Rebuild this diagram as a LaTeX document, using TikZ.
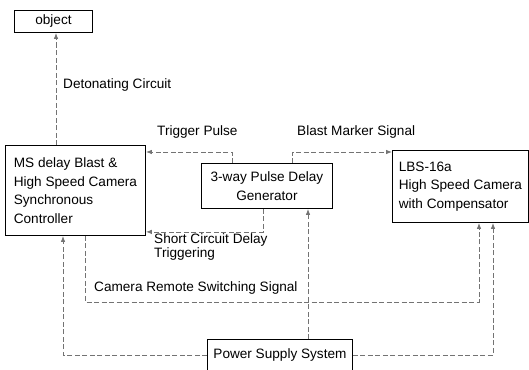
\documentclass[tikz,border=0pt]{standalone}
\usepackage{fontspec}
\setmainfont{Liberation Sans}
\usetikzlibrary{arrows.meta}
\begin{document}
\begin{tikzpicture}[x=1pt,y=-1pt,
  box/.style={draw=black, line width=0.9pt, anchor=north west, inner sep=0pt,
    font=\fontsize{13.6}{18.5}\selectfont},
  lbl/.style={anchor=west, inner sep=0pt, font=\fontsize{13.6}{13.5}\selectfont, align=left},
  conn/.style={draw=black!55, line width=0.8pt, dash pattern=on 5pt off 2.5pt,
    -{Latex[length=6pt,width=4.5pt]}}
]
\useasboundingbox (0,0) rectangle (529,369);

% boxes
\node[box, minimum width=78pt, minimum height=22pt] (obj) at (14,10) {object};
\node[box, minimum width=140pt, minimum height=90pt, align=left]
  (ctl) at (5,145) {MS delay Blast \&\\High Speed Camera\\Synchronous\\Controller};
\node[box, minimum width=131pt, minimum height=45pt, align=center]
  (gen) at (201,163) {3-way Pulse Delay\\Generator};
\node[box, minimum width=136pt, minimum height=72pt, align=left]
  (lbs) at (392,150) {LBS-16a\\High Speed Camera\\with Compensator};
\node[box, minimum width=145pt, text height=15pt, text depth=30pt, inner ysep=4pt]
  (pwr) at (207,339) {Power Supply System};

% connectors
\coordinate (c1) at ([xshift=51pt]ctl.north west);
\draw[conn] (c1) -- (c1 |- obj.south);
\draw[conn] ([xshift=31pt]gen.north west) |- ([yshift=-7pt]ctl.north east);
\draw[conn] ([xshift=91pt]gen.north west) |- ([yshift=-2pt]lbs.north west);
\draw[conn] ([xshift=62pt]gen.south west) |- ([yshift=4pt]ctl.south east);
\draw[conn] ([xshift=80pt]ctl.south west) -- ++(0,66) -| ([xshift=87pt]lbs.south west);
\draw[conn] ([yshift=-16pt]pwr.north east) -| ([xshift=101pt]lbs.south west);
\draw[conn] ([yshift=-16pt]pwr.north west) -| ([xshift=58pt]ctl.south west);
\coordinate (c8) at ([xshift=101pt]pwr.north west);
\draw[conn] (c8) -- (c8 |- gen.south);

% labels
\node[lbl] (ldet) at (63,85) {Detonating Circuit};
\node[lbl] (ltrig) at (157,132) {Trigger Pulse};
\node[lbl] (lblast) at (297,132) {Blast Marker Signal};
\node[lbl] (lshort) at (154,247) {Short Circuit Delay\\Triggering};
\node[lbl] (lcam) at (94,288) {Camera Remote Switching Signal};
\end{tikzpicture}
\end{document}
